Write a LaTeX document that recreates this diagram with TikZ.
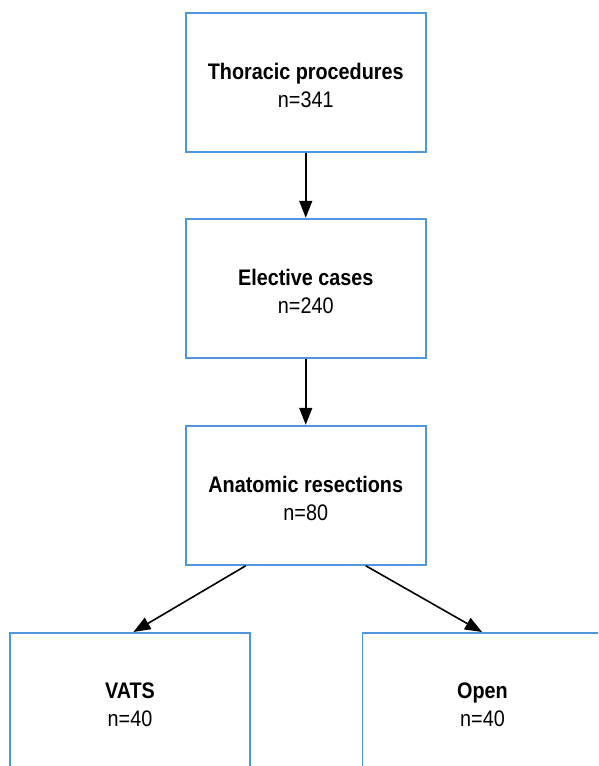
\documentclass[tikz,border=0pt]{standalone}
\usepackage{fontspec}
\setmainfont{Liberation Sans}[FakeStretch=0.88]
\usetikzlibrary{arrows.meta}
\definecolor{boxblue}{RGB}{80,150,220}
\tikzset{
  flowbox/.style={draw=boxblue, line width=1.5pt, fill=white, minimum width=240pt, minimum height=139pt,
    inner sep=0pt, align=center, font=\fontsize{22.5pt}{28pt}\selectfont},
  flowtext/.style={anchor=center, align=center, inner sep=0pt, font=\fontsize{22.5pt}{28pt}\selectfont},
  flowarrow/.style={draw=black, line width=1.6pt, -{Triangle[length=17pt,width=13pt]}, shorten >=0.5pt}
}
\begin{document}
\begin{tikzpicture}[x=1pt,y=1pt]
\useasboundingbox (0,0) rectangle (598,-766);
\clip (0,0) rectangle (598,-766);
\fill[white] (0,0) rectangle (598,-766);
\node[flowbox] (a) at (305.75,-82.5) {};
\node[flowbox] (b) at (305.75,-288.5) {};
\node[flowbox] (c) at (305.75,-495.5) {};
\node[flowbox] (d) at (130,-702.5) {};
\node[flowbox] (e) at (482.5,-702.5) {};
\node[flowtext] (at) at ([yshift=-2.5pt]a.center) {\textbf{Thoracic procedures}\\n=341};
\node[flowtext] (bt) at ([yshift=-2.5pt]b.center) {\textbf{Elective cases}\\n=240};
\node[flowtext] (ct) at ([yshift=-2.5pt]c.center) {\textbf{Anatomic resections}\\n=80};
\node[flowtext] (dt) at ([yshift=-2.5pt]d.center) {\textbf{VATS}\\n=40};
\node[flowtext] (et) at ([yshift=-2.5pt]e.center) {\textbf{Open}\\n=40};
\draw[flowarrow] (a.south) -- (b.north);
\draw[flowarrow] (b.south) -- (c.north);
\draw[flowarrow] ([xshift=-60pt]c.south) -- ([xshift=3pt]d.north);
\draw[flowarrow] ([xshift=60pt]c.south) -- (e.north);
\end{tikzpicture}
\end{document}
